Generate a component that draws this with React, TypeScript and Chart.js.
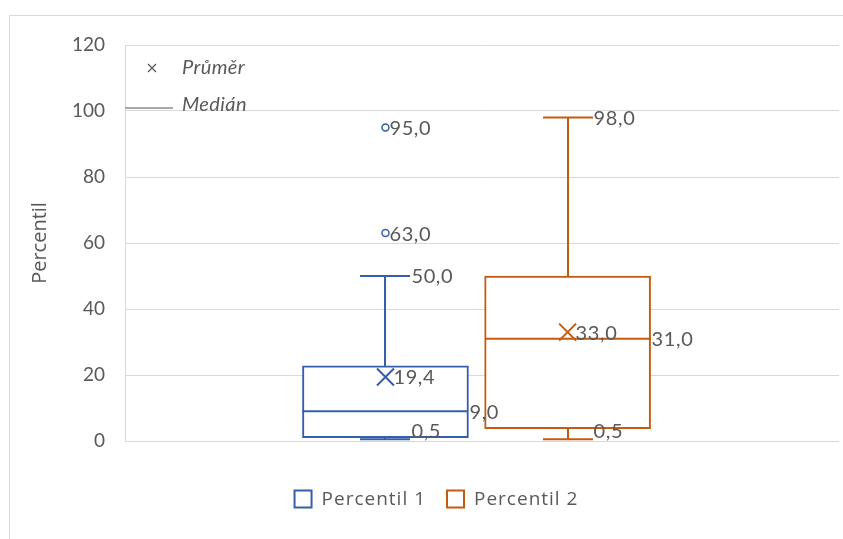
import React, { useEffect, useRef } from 'react';
import { Chart, registerables } from 'chart.js';

Chart.register(...registerables);

// Box-and-whisker statistics for the two series
const seriesNames = ['Percentil 1', 'Percentil 2'];
const seriesColors = ['#3560A9', '#C55A11'];
const positions = [1, 2];
const minValues = [0.5, 0.5];
const q1Values = [1.0, 3.75];
const medianValues = [9.0, 31.0];
const q3Values = [22.75, 50.0];
const maxValues = [50.0, 98.0];
const meanValues = [19.4, 33.0];
const outlierValues = [[63.0, 95.0], []];

const yTickMin = 0;
const yTickMax = 120;
const yTickStep = 20;
const yTitle = 'Percentil';
const meanLegend = 'Průměr';
const medianLegend = 'Medián';

const TEXT = '#595959';
const GRID = '#d9d9d9';
const LABEL_FONT = '20px Lato, Calibri, sans-serif';
const BOX_WIDTH = 166;
const CAP_HALF = 25;
const VIEW_W = 843;
const VIEW_H = 539;
const CANVAS_W = 853;

const fmt = (v: number) => v.toFixed(1).replace('.', ',');

const boxPlugin = {
  id: 'boxWhisker',
  beforeDraw(chart: any) {
    const { ctx, width, height } = chart;
    ctx.save();
    ctx.fillStyle = '#ffffff';
    ctx.fillRect(0, 0, width, height);
    // outer chart border
    ctx.strokeStyle = GRID;
    ctx.lineWidth = 1;
    ctx.beginPath();
    ctx.moveTo(9.5, height);
    ctx.lineTo(9.5, 15.5);
    ctx.lineTo(width, 15.5);
    ctx.stroke();
    ctx.restore();
  },
  beforeDatasetsDraw(chart: any) {
    const { ctx, scales } = chart;
    const x = scales.x;
    const y = scales.y;
    ctx.save();
    ctx.lineWidth = 2;
    positions.forEach((p, i) => {
      const cx = Math.round(x.getPixelForValue(p));
      ctx.strokeStyle = seriesColors[i];
      ctx.beginPath();
      ctx.moveTo(cx, y.getPixelForValue(q3Values[i]));
      ctx.lineTo(cx, y.getPixelForValue(maxValues[i]));
      ctx.moveTo(cx, y.getPixelForValue(q1Values[i]));
      ctx.lineTo(cx, y.getPixelForValue(minValues[i]));
      [maxValues[i], minValues[i]].forEach((v) => {
        const py = y.getPixelForValue(v);
        ctx.moveTo(cx - CAP_HALF, py);
        ctx.lineTo(cx + CAP_HALF, py);
      });
      ctx.stroke();
    });
    ctx.restore();
  },
  afterDatasetsDraw(chart: any) {
    const { ctx, scales, chartArea } = chart;
    const x = scales.x;
    const y = scales.y;
    ctx.save();
    // median lines
    ctx.lineWidth = 2;
    positions.forEach((p, i) => {
      const cx = Math.round(x.getPixelForValue(p));
      const py = y.getPixelForValue(medianValues[i]);
      ctx.strokeStyle = seriesColors[i];
      ctx.beginPath();
      ctx.moveTo(cx - BOX_WIDTH / 2, py);
      ctx.lineTo(cx + BOX_WIDTH / 2, py);
      ctx.stroke();
    });

    // value labels
    ctx.font = LABEL_FONT;
    (ctx as any).letterSpacing = '0.6px';
    ctx.fillStyle = TEXT;
    ctx.textAlign = 'left';
    ctx.textBaseline = 'middle';
    const put = (v: number, px: number) => {
      const py = Math.min(y.getPixelForValue(v) + 1, chartArea.bottom - 9);
      ctx.fillText(fmt(v), px, py);
    };
    positions.forEach((p, i) => {
      const cx = x.getPixelForValue(p);
      put(maxValues[i], cx + CAP_HALF + 1);
      put(minValues[i], cx + CAP_HALF + 1);
      put(medianValues[i], cx + BOX_WIDTH / 2 + 1);
      put(meanValues[i], cx + 8);
      outlierValues[i].forEach((v) => put(v, cx + 4));
    });

    // key for mean and median markers
    ctx.strokeStyle = TEXT;
    ctx.lineWidth = 1.2;
    ctx.beginPath();
    ctx.moveTo(148, 64);
    ctx.lineTo(156, 72);
    ctx.moveTo(156, 64);
    ctx.lineTo(148, 72);
    ctx.stroke();
    ctx.strokeStyle = '#8c8c8c';
    ctx.lineWidth = 1.5;
    ctx.beginPath();
    ctx.moveTo(chartArea.left, 108);
    ctx.lineTo(chartArea.left + 48, 108);
    ctx.stroke();
    ctx.font = 'italic 20px Lato, Calibri, sans-serif';
    (ctx as any).letterSpacing = '0.4px';
    ctx.fillStyle = TEXT;
    ctx.fillText(meanLegend, 182, 68);
    ctx.fillText(medianLegend, 182, 105);

    // series legend
    ctx.font = '19px "Open Sans", sans-serif';
    (ctx as any).letterSpacing = '1px';
    const sq = 19;
    const widths = seriesNames.map((n) => ctx.measureText(n).width);
    const total = widths.reduce((a, w) => a + sq + 9 + w, 0) + 20;
    let lx = 436 - total / 2;
    const ly = 499;
    seriesNames.forEach((n, i) => {
      ctx.strokeStyle = seriesColors[i];
      ctx.lineWidth = 2;
      ctx.strokeRect(lx + 1, ly - sq / 2 + 1, sq - 2, sq - 2);
      ctx.fillStyle = TEXT;
      ctx.fillText(n, lx + sq + 9, ly + 1);
      lx += sq + 9 + widths[i] + 20;
    });
    ctx.restore();
  },
};

export default function App() {
  const ref = useRef<HTMLCanvasElement>(null);

  useEffect(() => {
    if (!ref.current) return;
    const datasets: any[] = [];
    positions.forEach((p, i) => {
      datasets.push({
        type: 'scatter',
        label: seriesNames[i] + ' mean',
        data: [{ x: p, y: meanValues[i] }],
        pointStyle: 'crossRot',
        radius: 12,
        borderColor: seriesColors[i],
        borderWidth: 2,
        order: 1,
      });
      datasets.push({
        type: 'scatter',
        label: seriesNames[i] + ' outliers',
        data: outlierValues[i].map((v) => ({ x: p, y: v })),
        pointStyle: 'circle',
        radius: 3.5,
        borderColor: seriesColors[i],
        backgroundColor: '#ffffff',
        borderWidth: 1.5,
        order: 1,
      });
      datasets.push({
        type: 'bar',
        label: seriesNames[i],
        data: [{ x: p, y: [q1Values[i], q3Values[i]] }],
        backgroundColor: '#ffffff',
        borderColor: seriesColors[i],
        borderWidth: 2,
        borderSkipped: false,
        barThickness: BOX_WIDTH,
        grouped: false,
        order: 2,
      });
    });

    const chart = new Chart(ref.current, {
      type: 'bar',
      data: { datasets },
      options: {
        animation: false,
        responsive: false,
        events: [],
        layout: { padding: { left: 0, top: 45, right: 5, bottom: 98 } },
        plugins: { legend: { display: false }, tooltip: { enabled: false } },
        scales: {
          x: { type: 'linear', min: -0.43, max: 3.49, display: false, offset: false },
          y: {
            min: yTickMin,
            max: yTickMax,
            afterFit: (s: any) => {
              s.width = 125;
            },
            ticks: {
              stepSize: yTickStep,
              padding: 20,
              color: TEXT,
              font: { family: 'Lato, Calibri, sans-serif', size: 19 },
            },
            grid: { color: GRID, drawTicks: false, lineWidth: 1 },
            border: { display: true, color: GRID, width: 1 },
            title: {
              display: true,
              text: yTitle,
              color: TEXT,
              padding: { top: 28, bottom: 0 },
              font: { family: '"Open Sans", sans-serif', size: 20 },
            },
          },
        },
      },
      plugins: [boxPlugin],
    } as any);
    return () => chart.destroy();
  }, []);

  return (
    <div style={{ position: 'fixed', left: 0, top: 0, width: VIEW_W, height: VIEW_H, overflow: 'hidden' }}>
      <canvas ref={ref} width={CANVAS_W} height={VIEW_H} style={{ display: 'block' }} />
    </div>
  );
}
